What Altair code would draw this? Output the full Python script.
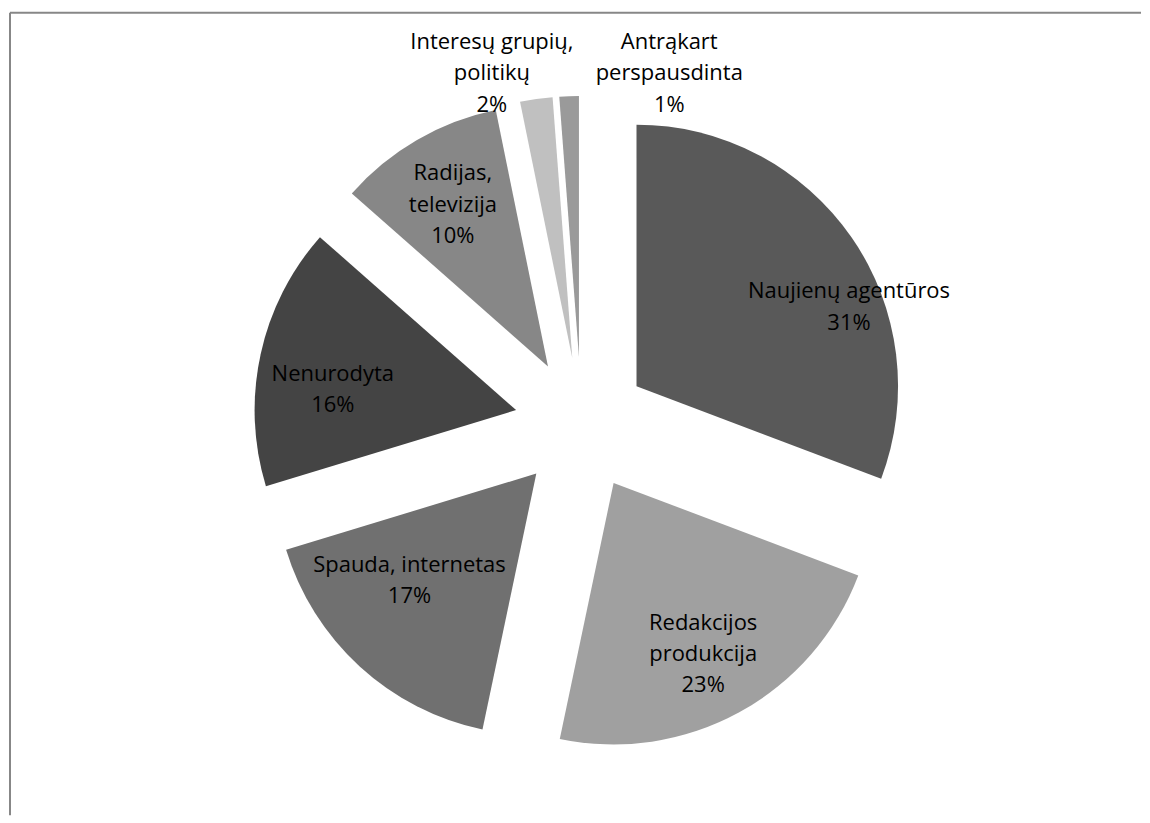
import math
import altair as alt
import pandas as pd

categories = [
    "Naujienų agentūros",
    "Redakcijos produkcija",
    "Spauda, internetas",
    "Nenurodyta",
    "Radijas, televizija",
    "Interesų grupių, politikų",
    "Antrąkart perspausdinta",
]
shares = [30.75, 22.55, 17.0, 16.2, 10.3, 2.0, 1.2]
wrapped_names = [
    "Naujienų agentūros",
    "Redakcijos\nprodukcija",
    "Spauda, internetas",
    "Nenurodyta",
    "Radijas,\ntelevizija",
    "Interesų grupių,\npolitikų",
    "Antrąkart\nperspausdinta",
]

# ---- styles ----
colors = ["#595959", "#a0a0a0", "#707070", "#444444", "#878787", "#c0c0c0", "#9a9a9a"]
label_radius = [1.117, 0.994, 0.888, 0.960, 0.973, 1.385, 1.383]   # in pie radii from pie centre
label_shift = [10.95, 0.8, 5.3, -4.3, -0.3, -6.4, 16.2]            # degrees from slice bisector

# ---- layout ----
W, H = 1133, 804
CX, CY = 572.5, 412.3      # pie centre inside the view (px)
R_PX = 262                  # pie radius (px)
EXPLODE = 67 / R_PX         # explosion distance in pie radii
LINE_H = 31.5
FONT_SIZE = 22

xs = alt.Scale(domain=[-CX / R_PX, (W - CX) / R_PX], nice=False, zero=False)
ys = alt.Scale(domain=[-(H - CY) / R_PX, CY / R_PX], nice=False, zero=False)

labels = [f"{n}\n{int(v + 0.5)}%" for n, v in zip(wrapped_names, shares)]
df = pd.DataFrame({
    "order": list(range(len(categories))),
    "category": categories,
    "share": shares,
    "label": labels,
    "nlines": [lab.count("\n") + 1 for lab in labels],
    "lr": label_radius,
    "shift": label_shift,
})

base = alt.Chart(df).transform_window(
    cum="sum(share)", sort=[alt.SortField("order")], frame=[None, 0]
).transform_calculate(
    start="datum.cum - datum.share",
    mid="(datum.cum - datum.share / 2) * 2 * PI / 100",
    cx=f"{EXPLODE} * sin(datum.mid)",
    cy=f"{EXPLODE} * cos(datum.mid)",
    la="datum.mid + datum.shift * PI / 180",
    lx="datum.lr * sin(datum.la)",
    ly=f"datum.lr * cos(datum.la) + (datum.nlines - 1) * {LINE_H} / 2 / {R_PX}",
)

arcs = base.mark_arc(radius=R_PX, strokeWidth=0).encode(
    theta=alt.Theta("start:Q", scale=alt.Scale(domain=[0, 100], range=[0, 2 * math.pi]), stack=None),
    theta2="cum:Q",
    x=alt.X("cx:Q", scale=xs, axis=None),
    y=alt.Y("cy:Q", scale=ys, axis=None),
    color=alt.Color("category:N", scale=alt.Scale(domain=categories, range=colors), legend=None),
)

texts = base.mark_text(
    font="Open Sans", fontSize=FONT_SIZE, lineHeight=LINE_H, lineBreak="\n",
    align="center", baseline="middle", color="#000000",
).encode(
    x=alt.X("lx:Q", scale=xs, axis=None),
    y=alt.Y("ly:Q", scale=ys, axis=None),
    text="label:N",
)

one = alt.Data(values=[{}])
top_rule = alt.Chart(one).mark_rule(color="#878787", strokeWidth=2).encode(
    x=alt.value(0), x2=alt.value(W), y=alt.value(0)
)
left_rule = alt.Chart(one).mark_rule(color="#878787", strokeWidth=2).encode(
    x=alt.value(0), y=alt.value(0), y2=alt.value(H)
)

chart = alt.layer(arcs, texts, top_rule, left_rule).properties(
    width=W, height=H,
    padding={"left": 1, "top": 3, "right": 0, "bottom": 0},
).configure_view(stroke=None)

chart.save("out.html", embed_options={"renderer": "svg", "actions": False})
